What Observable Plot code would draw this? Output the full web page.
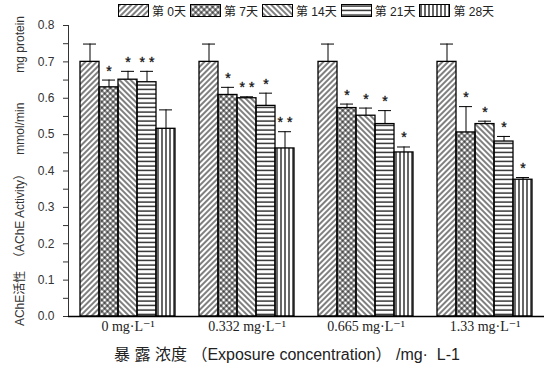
<!DOCTYPE html>
<html>
<head>
<meta charset="utf-8">
<script src="https://cdn.jsdelivr.net/npm/d3@7"></script>
<script src="https://cdn.jsdelivr.net/npm/@observablehq/plot@0.6"></script>
<style>
  body { margin: 0; background: white; width: 544px; height: 374px; overflow: hidden; font-family: 'Liberation Sans', 'Noto Sans CJK SC', sans-serif; }
  #legend { height: 20px; display: flex; align-items: center; padding-left: 118px; font-size: 12px; color: #222; }
  #legend .item { display: flex; align-items: center; margin-right: 4px; }
  #legend svg { margin-right: 3px; }
  #xtitle { text-align: center; font-size: 16px; color: #222; padding-top: 3px; padding-left: 30px; line-height: 19px; white-space: pre; }
  [aria-label^="fx-axis"] text { font-family: 'Liberation Serif', 'DejaVu Serif', serif; font-size: 14px; fill: #222; }
</style>
</head>
<body>
<svg width="0" height="0" style="position:absolute">
  <defs>
    <pattern id="p0" width="4" height="4" patternUnits="userSpaceOnUse" patternTransform="rotate(45)">
      <line x1="2" y1="-1" x2="2" y2="5" stroke="black" stroke-width="1"/>
    </pattern>
    <pattern id="p1" width="4" height="4" patternUnits="userSpaceOnUse" patternTransform="rotate(45)">
      <line x1="2" y1="-1" x2="2" y2="5" stroke="black" stroke-width="0.9"/>
      <line x1="-1" y1="2" x2="5" y2="2" stroke="black" stroke-width="0.9"/>
    </pattern>
    <pattern id="p2" width="4" height="4" patternUnits="userSpaceOnUse" patternTransform="rotate(-45)">
      <line x1="2" y1="-1" x2="2" y2="5" stroke="black" stroke-width="1"/>
    </pattern>
    <pattern id="p3" width="4" height="4.5" patternUnits="userSpaceOnUse">
      <line x1="-1" y1="2" x2="5" y2="2" stroke="black" stroke-width="1.2"/>
    </pattern>
    <pattern id="p4" width="4" height="4" patternUnits="userSpaceOnUse">
      <line x1="2" y1="-1" x2="2" y2="5" stroke="black" stroke-width="1.2"/>
    </pattern>
  </defs>
</svg>
<div id="legend"></div>
<div id="chart"></div>
<div id="xtitle"></div>
<script>
// ---- data ----
const groups = ["0 mg·L⁻¹", "0.332 mg·L⁻¹", "0.665 mg·L⁻¹", "1.33 mg·L⁻¹"];
const days = ["第 0天", "第 7天", "第 14天", "第 21天", "第 28天"];
const day0 = [0.700, 0.700, 0.700, 0.700];
const day7 = [0.630, 0.609, 0.573, 0.506];
const day14 = [0.651, 0.600, 0.552, 0.529];
const day21 = [0.644, 0.579, 0.529, 0.481];
const day28 = [0.516, 0.462, 0.451, 0.376];
const err0 = [0.049, 0.049, 0.049, 0.049];
const err7 = [0.020, 0.021, 0.011, 0.071];
const err14 = [0.023, 0.004, 0.021, 0.008];
const err21 = [0.030, 0.035, 0.037, 0.014];
const err28 = [0.052, 0.046, 0.015, 0.006];
const star0 = ["", "", "", ""];
const star7 = ["*", "*", "*", "*"];
const star14 = ["*", "* *", "*", "*"];
const star21 = ["* *", "*", "*", "*"];
const star28 = ["", "* *", "*", "*"];
const yTicks = [0, 0.05, 0.1, 0.15, 0.2, 0.25, 0.3, 0.35, 0.4, 0.45, 0.5, 0.55, 0.6, 0.65, 0.7, 0.75, 0.8];
const yTickLabels = ["0.0", "", "0.1", "", "0.2", "", "0.3", "", "0.4", "", "0.5", "", "0.6", "", "0.7", "", "0.8"];
const yLabel = "AChE活性\u00A0\u00A0（AChE Activity）\u00A0\u00A0\u00A0\u00A0mmol/min\u00A0\u00A0\u00A0\u00A0\u00A0\u00A0\u00A0\u00A0\u00A0mg protein";
const xTitle = "暴 露 浓度 （Exposure concentration） /mg·  L-1";
const patterns = ["url(#p0)", "url(#p1)", "url(#p2)", "url(#p3)", "url(#p4)"];

const series = [day0, day7, day14, day21, day28];
const errs = [err0, err7, err14, err21, err28];
const stars = [star0, star7, star14, star21, star28];

const data = groups.flatMap((g, gi) => days.map((d, di) => ({
  group: g, day: d,
  value: series[di][gi],
  top: series[di][gi] + errs[di][gi],
  star: stars[di][gi],
  pat: patterns[di]
})));

// ---- legend ----
const legend = document.getElementById("legend");
days.forEach((d, i) => {
  const item = document.createElement("div");
  item.className = "item";
  item.innerHTML = `<svg width="31" height="13"><rect x="0.5" y="0.5" width="30" height="12" fill="${patterns[i]}" stroke="black" stroke-width="1"/></svg><span>${d}</span>`;
  legend.appendChild(item);
});
document.getElementById("xtitle").textContent = xTitle;

// ---- chart ----
const chart = Plot.plot({
  width: 544,
  height: 322,
  marginTop: 5,
  marginBottom: 26,
  marginLeft: 68,
  marginRight: 0,
  style: { fontFamily: "'Liberation Sans', 'Noto Sans CJK SC', sans-serif", fontSize: "12px", color: "#333", background: "white", overflow: "visible" },
  fx: { domain: groups, padding: 0, label: null, tickSize: 0, tickPadding: 5, axis: "bottom" },
  x: { domain: days, axis: null, paddingInner: 0, paddingOuter: 0.63 },
  y: {
    domain: [0, 0.8], ticks: yTicks,
    tickFormat: (d) => yTickLabels[yTicks.indexOf(d)] ?? "",
    tickSize: 5, tickPadding: 9, line: true,
    label: yLabel, labelAnchor: "center", labelOffset: 53, labelArrow: "none"
  },
  color: { type: "identity" },
  marks: [
    Plot.barY(data, { fx: "group", x: "day", y: "value", fill: "pat", stroke: "black", strokeWidth: 1.3 }),
    Plot.ruleX(data, { fx: "group", x: "day", y1: "value", y2: "top", stroke: "black", strokeWidth: 1 }),
    Plot.tickY(data, { fx: "group", x: "day", y: "top", inset: 3, stroke: "black", strokeWidth: 1 }),
    Plot.text(data, { fx: "group", x: "day", y: "top", text: "star", dy: -9, fontSize: 14, fontFamily: "'Liberation Sans', sans-serif", fill: "#111", stroke: "#111", strokeWidth: 0.3 }),
    Plot.ruleY([0], { stroke: "black", strokeWidth: 1.3 })
  ]
});
document.getElementById("chart").appendChild(chart);
</script>
</body>
</html>
